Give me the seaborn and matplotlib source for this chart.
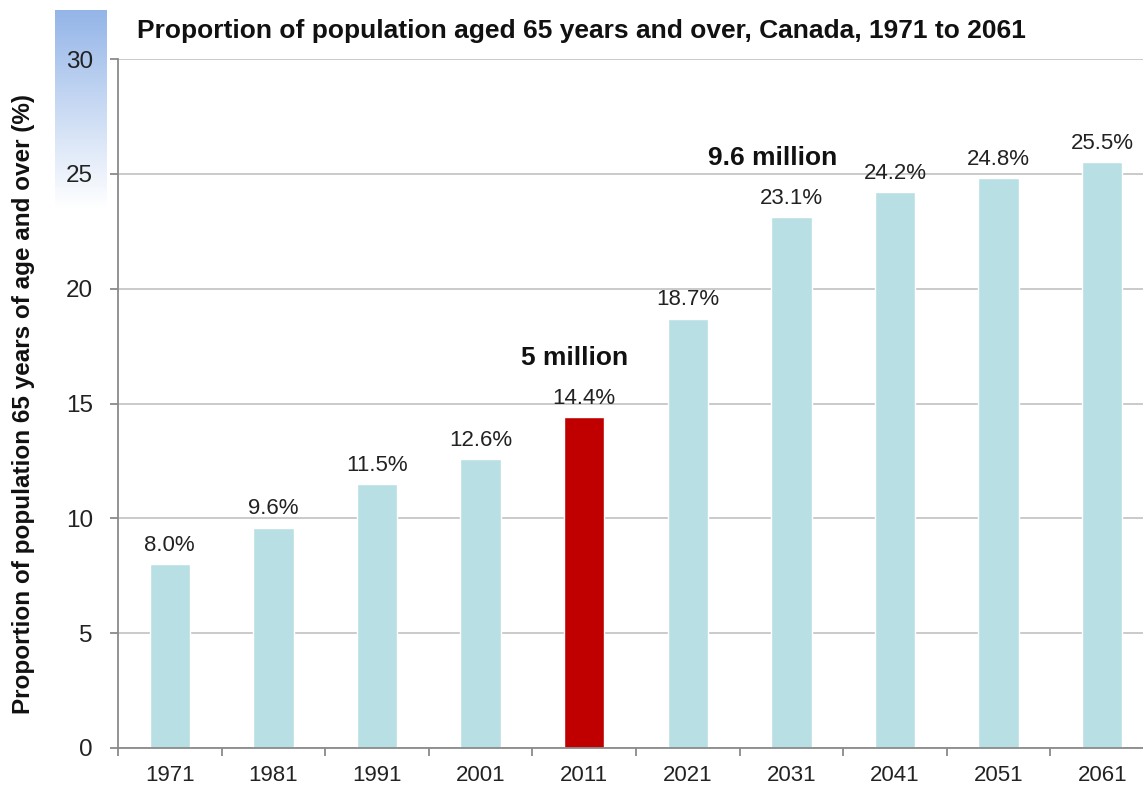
import numpy as np
import pandas as pd
import matplotlib
matplotlib.use("Agg")
import matplotlib.pyplot as plt
import seaborn as sns
from matplotlib.ticker import FixedLocator

years = ["1971", "1981", "1991", "2001", "2011", "2021", "2031", "2041", "2051", "2061"]
share_65_plus = [8.0, 9.6, 11.5, 12.6, 14.4, 18.7, 23.1, 24.2, 24.8, 25.5]
highlight_year = "2011"
callouts = {"2011": "5 million", "2031": "9.6 million"}

sns.set_theme(style="white")
plt.rcParams["font.family"] = ["Liberation Sans", "DejaVu Sans"]

df = pd.DataFrame({"year": years, "share": share_65_plus})
palette = {y: ("#c00000" if y == highlight_year else "#b8dfe3") for y in years}

fig = plt.figure(figsize=(11.43, 7.85), dpi=100)

# soft blue band behind the upper y ticks
band = fig.add_axes([55 / 1143, 1 - 208 / 785, 51 / 1143, 198 / 785])
grad = np.linspace(0, 1, 256).reshape(-1, 1)
top = np.array([0.58, 0.71, 0.91])
rgb = top[None, None, :] * (1 - grad[:, :, None]) + np.ones(3)[None, None, :] * grad[:, :, None]
band.imshow(rgb, aspect="auto", extent=[0, 1, 0, 1])
band.set_axis_off()

ax = fig.add_axes([118 / 1143, 37 / 785, 1036 / 1143, 689 / 785])
sns.barplot(data=df, x="year", y="share", hue="year", palette=palette,
            order=years, width=0.39, legend=False, ax=ax, saturation=1)

ax.set_xlim(-0.5, len(years) - 0.5)
ax.set_ylim(0, 30)
ax.set_yticks(range(0, 31, 5))
ax.yaxis.grid(True, color="#c6c6c6", linewidth=1.3)
ax.set_axisbelow(True)

for side in ["top", "right"]:
    ax.spines[side].set_visible(False)
for side in ["left", "bottom"]:
    ax.spines[side].set_color("#8a8a8a")
    ax.spines[side].set_linewidth(1.3)

ax.tick_params(axis="x", which="major", length=0, labelsize=16, pad=12, labelcolor="#222222")
ax.xaxis.set_minor_locator(FixedLocator(np.arange(-0.5, len(years), 1.0)))
ax.tick_params(axis="x", which="minor", length=6, width=1.3, color="#8a8a8a", bottom=True)
ax.tick_params(axis="y", which="major", length=6, width=1.3, color="#8a8a8a",
               labelsize=17.5, pad=12, left=True, labelcolor="#222222")

ax.set_xlabel("")
ax.set_ylabel("Proportion of population 65 years of age and over (%)",
              fontsize=17.5, fontweight="bold", labelpad=22, color="#111111")

callout_shift = {"2011": -0.09, "2031": -0.18}
for i, (y, v) in enumerate(zip(years, share_65_plus)):
    ax.text(i, v + 0.35, f"{v:.1f}%", ha="center", va="bottom", fontsize=16, color="#222222")
    if y in callouts:
        ax.text(i + callout_shift[y], v + 2.05, callouts[y], ha="center", va="bottom",
                fontsize=19, fontweight="bold", color="#111111")

fig.text(137 / 1143, 1 - 31 / 785, "Proportion of population aged 65 years and over, Canada, 1971 to 2061",
         ha="left", va="center", fontsize=19, fontweight="bold", color="#111111")

fig.savefig("out.png", dpi=100)
